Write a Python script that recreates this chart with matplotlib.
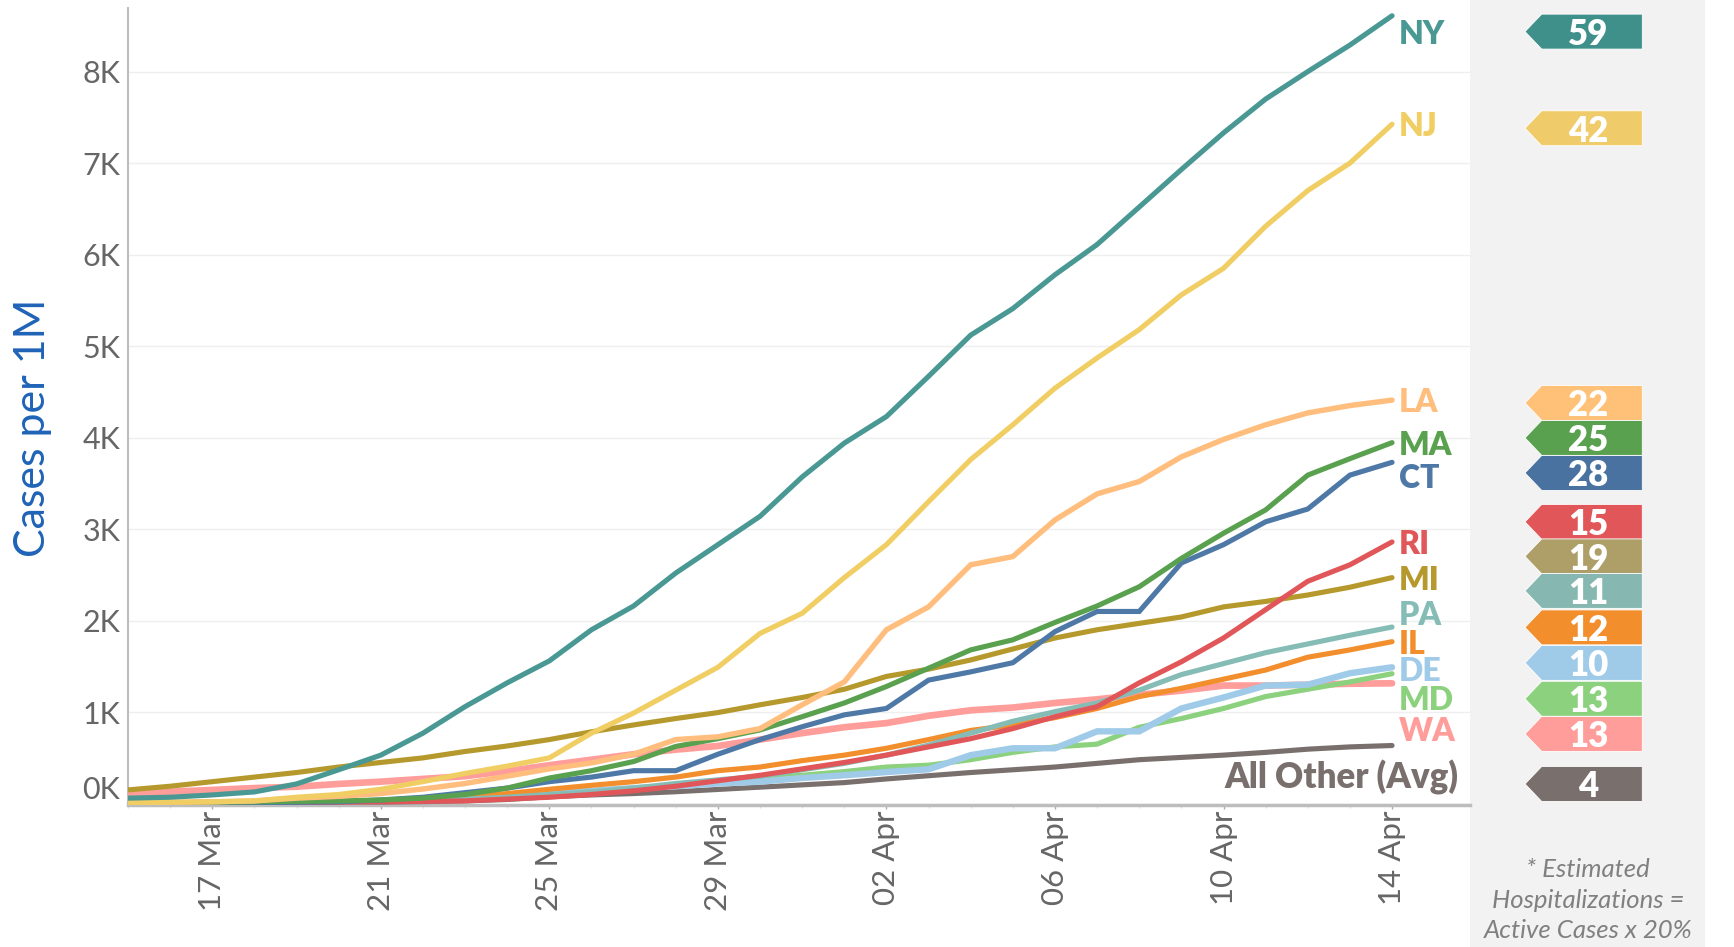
import matplotlib
matplotlib.use("Agg")
import matplotlib.pyplot as plt
import matplotlib.dates as mdates
from matplotlib.patches import Polygon, Rectangle
import pandas as pd

plt.rcParams['font.family'] = ['Lato', 'DejaVu Sans']

# cases per 1M, one value a day from 15 Mar to 14 Apr
dates = pd.date_range("2020-03-15", "2020-04-14", freq="D")

states = ["NY", "NJ", "LA", "MA", "CT", "RI", "MI", "PA", "IL", "DE", "MD", "WA", "All Other (Avg)"]

ny = [60, 70, 95, 128, 215, 370, 530, 770, 1060, 1320, 1560, 1900, 2160, 2520, 2830, 3140,
      3570, 3940, 4230, 4670, 5120, 5410, 5780, 6110, 6520, 6930, 7330, 7700, 8000, 8290, 8610]
nj = [10, 15, 20, 30, 70, 100, 157, 240, 330, 410, 500, 770, 990, 1240, 1490, 1860,
      2080, 2470, 2830, 3300, 3760, 4140, 4540, 4870, 5180, 5560, 5850, 6310, 6700, 7000, 7425]
la = [10, 15, 20, 30, 60, 80, 110, 160, 220, 300, 380, 445, 540, 700, 730, 820,
      1080, 1330, 1900, 2150, 2610, 2700, 3100, 3385, 3520, 3790, 3980, 4140, 4270, 4350, 4410]
ma = [10, 10, 15, 20, 25, 30, 40, 60, 100, 170, 280, 360, 460, 625, 710, 805,
      950, 1100, 1280, 1480, 1680, 1790, 1980, 2160, 2370, 2680, 2955, 3210, 3590, 3770, 3945]
ct = [5, 5, 10, 10, 15, 20, 40, 70, 120, 170, 240, 290, 360, 360, 540, 700,
      840, 970, 1040, 1350, 1440, 1540, 1880, 2100, 2100, 2630, 2830, 3080, 3220, 3590, 3730]
ri = [2, 3, 5, 7, 10, 15, 20, 25, 30, 50, 70, 100, 140, 190, 250, 310,
      380, 450, 530, 620, 710, 820, 950, 1060, 1320, 1550, 1810, 2120, 2430, 2610, 2860]
mi = [150, 190, 240, 290, 340, 400, 450, 500, 570, 630, 700, 785, 860, 930, 995, 1080,
      1160, 1250, 1390, 1470, 1570, 1690, 1810, 1900, 1970, 2040, 2150, 2210, 2280, 2365, 2470]
pa = [2, 3, 5, 8, 12, 18, 25, 35, 50, 70, 100, 130, 170, 220, 260, 300,
      370, 440, 530, 640, 770, 900, 1005, 1100, 1240, 1410, 1530, 1650, 1745, 1840, 1930]
il = [2, 3, 5, 8, 12, 18, 25, 40, 70, 110, 157, 200, 240, 290, 360, 400,
      470, 530, 605, 700, 800, 860, 940, 1040, 1170, 1260, 1360, 1460, 1600, 1680, 1770]
de = [2, 3, 5, 8, 12, 20, 30, 45, 65, 90, 120, 140, 170, 190, 220, 240,
      280, 310, 345, 375, 530, 605, 605, 790, 790, 1040, 1160, 1290, 1300, 1425, 1490]
md = [2, 3, 5, 8, 12, 20, 30, 40, 60, 85, 110, 140, 170, 200, 230, 270,
      310, 350, 400, 420, 480, 560, 620, 650, 835, 930, 1040, 1170, 1250, 1330, 1420]
wa = [110, 130, 150, 170, 185, 215, 240, 270, 300, 355, 420, 480, 540, 590, 630, 700,
      770, 835, 880, 960, 1020, 1050, 1100, 1140, 1190, 1235, 1290, 1290, 1300, 1310, 1315]
other = [3, 4, 6, 8, 10, 13, 17, 22, 30, 45, 75, 95, 110, 130, 155, 180,
         205, 230, 270, 305, 340, 370, 400, 440, 480, 505, 530, 560, 595, 620, 635]

series = [ny, nj, la, ma, ct, ri, mi, pa, il, de, md, wa, other]

# estimated hospitalizations per 1M (badges on the right)
hospitalized = [59, 42, 22, 25, 28, 15, 19, 11, 12, 10, 13, 13, 4]

line_colors = ["#499894", "#f1ce63", "#ffbe7d", "#59a14f", "#4e79a7", "#e15759", "#b6992d",
               "#86bcb6", "#f28e2b", "#a0cbe8", "#8cd17d", "#ff9d9a", "#79706e"]
badge_colors = ["#3f8f8a", "#f0cb6a", "#ffc078", "#59a14f", "#4a72a0", "#e15759", "#ae9f69",
                "#86b8b1", "#f28e2b", "#a0cbe8", "#8cd17d", "#ff9d9a", "#79706e"]
line_widths = [3.7, 3.7, 3.9, 3.7, 3.7, 3.7, 3.7, 3.7, 3.7, 4.6, 3.7, 4.8, 3.7]

# layout: label nudges from the last point, badge centres (same y scale as the chart)
label_nudge = [-180, 0, 0, 0, -150, 0, 0, 150, 0, -20, -270, -500]
badge_y = [8437, 7381, 4379, 3997, 3614, 3079, 2702, 2325, 1926, 1538, 1146, 762, 215]

W, H = 1734, 947
fig = plt.figure(figsize=(W / 100, H / 100), dpi=100)

ymin, ymax = -15, 8695
ax_bottom = 1 - 805 / H
ax_top = 1 - 8 / H
ax = fig.add_axes([128 / W, ax_bottom, (1470 - 128) / W, ax_top - ax_bottom])

for i in range(len(series) - 1, -1, -1):
    ax.plot(dates, series[i], color=line_colors[i], lw=line_widths[i],
            solid_capstyle="round", solid_joinstyle="miter", zorder=3 + (len(series) - i) * 0.01)

for i, name in enumerate(states[:-1]):
    ax.annotate(name, xy=(dates[-1], series[i][-1] + label_nudge[i]), xytext=(5, 0),
                textcoords="offset points", ha="left", va="center_baseline", fontsize=23,
                fontweight="heavy", color=line_colors[i], annotation_clip=False)

ax.text(mdates.date2num(dates[-1]) + 1.57, 290, states[-1], ha="right", va="center",
        fontsize=25, fontweight="heavy", color=line_colors[-1])

x0 = mdates.date2num(dates[0])
ax.set_xlim(x0 + 0.076, x0 + 31.85)
ax.set_ylim(ymin, ymax)

ax.set_yticks(range(0, 9000, 1000))
ax.set_yticklabels([f"{k}K" for k in range(9)])
ax.yaxis.get_major_ticks()[0].label1.set_verticalalignment("bottom")
ax.tick_params(axis="y", length=0, pad=5.5, labelsize=22, labelcolor="#666666")
ax.grid(axis="y", color="#efefef", lw=1)
ax.set_axisbelow(True)

ax.set_xticks(dates[2::4])
ax.xaxis.set_major_formatter(mdates.DateFormatter("%d %b"))
ax.set_xticks(dates, minor=True)
ax.tick_params(axis="x", which="major", length=3, width=1, color="#aaaaaa", pad=1,
               labelsize=22.5, labelcolor="#666666", labelrotation=90)
ax.tick_params(axis="x", which="minor", length=2, width=0.8, color="#dddddd")

for side in ["top", "right"]:
    ax.spines[side].set_visible(False)
ax.spines["left"].set_color("#bdbdbd")
ax.spines["left"].set_linewidth(1.5)
ax.spines["bottom"].set_color("#bdbdbd")
ax.spines["bottom"].set_linewidth(2.5)

fig.text(33 / W, 1 - 427.5 / H, "Cases per 1M", rotation=90, ha="center", va="center",
         fontsize=31, color="#1f63b8")

# right panel with badges
fig.patches.append(Rectangle((1470 / W, 0), 235 / W, 1, transform=fig.transFigure,
                             facecolor="#f2f2f2", edgecolor="none", zorder=-1))
pax = fig.add_axes([1470 / W, ax_bottom, 235 / W, ax_top - ax_bottom])
pax.set_zorder(2)
pax.set_xlim(0, 235)
pax.set_ylim(ymin, ymax)
pax.axis("off")

half = 191
for val, yc, col in zip(hospitalized, badge_y, badge_colors):
    pts = [(55, yc), (71.7, yc + half), (172.3, yc + half), (172.3, yc - half), (71.7, yc - half)]
    pax.add_patch(Polygon(pts, closed=True, facecolor=col, edgecolor="#ffffff", lw=0.6))
    pax.text(118, yc, str(val), ha="center", va="center_baseline", fontsize=25,
             fontweight="heavy", color="white")

fig.text(1588 / W, 1 - 900 / H, "* Estimated\nHospitalizations =\nActive Cases x 20%",
         ha="center", va="center", fontsize=18.5, style="italic", color="#808080",
         linespacing=1.4)

plt.savefig("out.png", dpi=100, facecolor="white")
